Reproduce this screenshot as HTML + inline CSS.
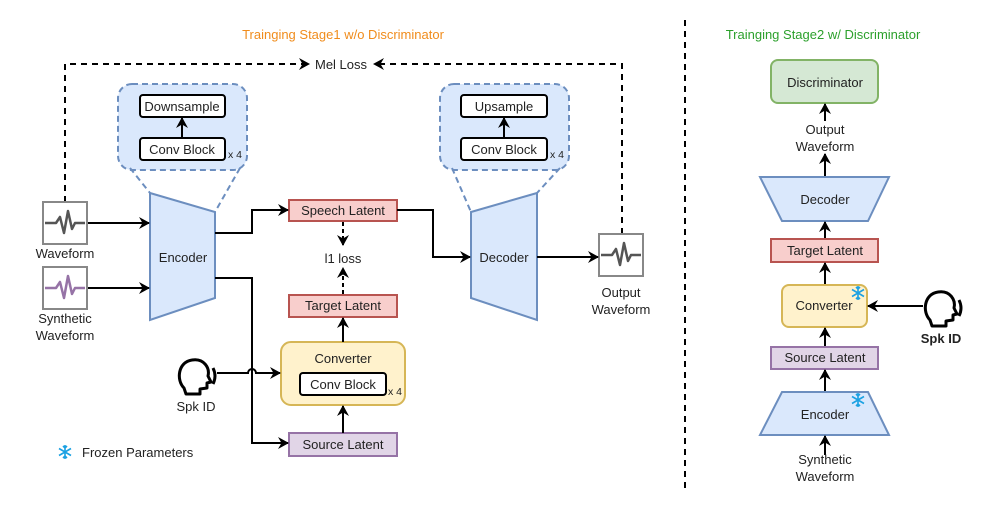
<!DOCTYPE html>
<html><head><meta charset="utf-8"><style>body{margin:0;background:#fff}svg{display:block}text{font-family:"Liberation Sans",sans-serif;fill:#222}</style></head><body>
<svg width="997" height="507" viewBox="0 0 997 507" xmlns="http://www.w3.org/2000/svg">
<defs>
<marker id="a" markerWidth="12" markerHeight="12" refX="10" refY="6" orient="auto" markerUnits="userSpaceOnUse"><path d="M0,0 L11,6 L0,12 L3.5,6 Z" fill="#000"/></marker>
<g id="wave"><rect x="0" y="0" width="44" height="42" fill="#fff" stroke="#888" stroke-width="2"/><path d="M2,21 H13 L17,15 L21,31 L25,9 L29,27 L32,21 H42" fill="none" stroke-width="2.5" stroke-linejoin="round"/></g>
<g id="head"><path d="M6,30 C-2,22 0,4 14,2 C26,0 32,10 30,18 L33,24 L29,25 L29,30 L22,31 L22,36 L8,36 Z" fill="#fff" stroke="#000" stroke-width="3" stroke-linejoin="round"/><path d="M35,10 Q39,18 35,26" fill="none" stroke="#000" stroke-width="3"/></g>
<g id="snow" stroke="#1ba1e2" stroke-width="1.6" fill="none"><path d="M0,-7 V7 M-6,-3.5 L6,3.5 M-6,3.5 L6,-3.5 M-2,-6 L0,-4 L2,-6 M-2,6 L0,4 L2,6"/></g>
</defs>
<text x="343" y="39" font-size="13" text-anchor="middle" style="fill:#f08c1c">Trainging Stage1 w/o Discriminator</text>
<text x="823" y="39" font-size="13" text-anchor="middle" style="fill:#2ca02c">Trainging Stage2 w/ Discriminator</text>
<line x1="685" y1="20" x2="685" y2="490" stroke="#000" stroke-width="2" stroke-dasharray="6,5"/>
<path d="M65,202 V64 H309" fill="none" stroke="#000" stroke-width="2" stroke-dasharray="6,5" marker-end="url(#a)"/>
<path d="M622,234 V64 H374" fill="none" stroke="#000" stroke-width="2" stroke-dasharray="6,5" marker-end="url(#a)"/>
<text x="341" y="69" font-size="13" text-anchor="middle">Mel Loss</text>
<rect x="118" y="84" width="129" height="86" rx="14" fill="#dae8fc" stroke="#6c8ebf" stroke-width="2" stroke-dasharray="6,4"/>
<line x1="130" y1="168" x2="150" y2="193" stroke="#6c8ebf" stroke-width="2" stroke-dasharray="6,4"/>
<line x1="240" y1="168" x2="215" y2="212" stroke="#6c8ebf" stroke-width="2" stroke-dasharray="6,4"/>
<rect x="140" y="95" width="85" height="22" rx="3" fill="#fff" stroke="#000" stroke-width="2"/><text x="182" y="111" font-size="13" text-anchor="middle">Downsample</text>
<rect x="140" y="138" width="85" height="22" rx="3" fill="#fff" stroke="#000" stroke-width="2"/><text x="182" y="154" font-size="13" text-anchor="middle">Conv Block</text>
<text x="228" y="158" font-size="10.5">x 4</text>
<line x1="182" y1="138" x2="182" y2="118" stroke="#000" stroke-width="2" marker-end="url(#a)"/>
<rect x="440" y="84" width="129" height="86" rx="14" fill="#dae8fc" stroke="#6c8ebf" stroke-width="2" stroke-dasharray="6,4"/>
<line x1="452" y1="168" x2="471" y2="212" stroke="#6c8ebf" stroke-width="2" stroke-dasharray="6,4"/>
<line x1="560" y1="168" x2="537" y2="193" stroke="#6c8ebf" stroke-width="2" stroke-dasharray="6,4"/>
<rect x="461" y="95" width="86" height="22" rx="3" fill="#fff" stroke="#000" stroke-width="2"/><text x="504" y="111" font-size="13" text-anchor="middle">Upsample</text>
<rect x="461" y="138" width="86" height="22" rx="3" fill="#fff" stroke="#000" stroke-width="2"/><text x="504" y="154" font-size="13" text-anchor="middle">Conv Block</text>
<text x="550" y="158" font-size="10.5">x 4</text>
<line x1="504" y1="138" x2="504" y2="118" stroke="#000" stroke-width="2" marker-end="url(#a)"/>
<polygon points="150,193 215,212 215,298 150,320" fill="#dae8fc" stroke="#6c8ebf" stroke-width="2"/>
<text x="183" y="262" font-size="13" text-anchor="middle">Encoder</text>
<polygon points="471,212 537,193 537,320 471,298" fill="#dae8fc" stroke="#6c8ebf" stroke-width="2"/>
<text x="504" y="262" font-size="13" text-anchor="middle">Decoder</text>
<use href="#wave" x="43" y="202" stroke="#555"/>
<text x="65" y="258" font-size="13" text-anchor="middle">Waveform</text>
<use href="#wave" x="43" y="267" stroke="#9673a6"/>
<text x="65" y="323" font-size="13" text-anchor="middle">Synthetic</text>
<text x="65" y="340" font-size="13" text-anchor="middle">Waveform</text>
<line x1="88" y1="223" x2="149" y2="223" stroke="#000" stroke-width="2" marker-end="url(#a)"/>
<line x1="88" y1="288" x2="149" y2="288" stroke="#000" stroke-width="2" marker-end="url(#a)"/>
<use href="#wave" x="599" y="234" stroke="#555"/>
<text x="621" y="297" font-size="13" text-anchor="middle">Output</text>
<text x="621" y="314" font-size="13" text-anchor="middle">Waveform</text>
<rect x="289" y="200" width="108" height="21" fill="#f8cecc" stroke="#b85450" stroke-width="2"/><text x="343" y="215" font-size="13" text-anchor="middle">Speech  Latent</text>
<rect x="289" y="295" width="108" height="22" fill="#f8cecc" stroke="#b85450" stroke-width="2"/><text x="343" y="310" font-size="13" text-anchor="middle">Target Latent</text>
<rect x="289" y="433" width="108" height="23" fill="#e1d5e7" stroke="#9673a6" stroke-width="2"/><text x="343" y="449" font-size="13" text-anchor="middle">Source  Latent</text>
<text x="343" y="263" font-size="13" text-anchor="middle">l1 loss</text>
<line x1="343" y1="222" x2="343" y2="245" stroke="#000" stroke-width="2" stroke-dasharray="4,3" marker-end="url(#a)"/>
<line x1="343" y1="294" x2="343" y2="268" stroke="#000" stroke-width="2" stroke-dasharray="4,3" marker-end="url(#a)"/>
<rect x="281" y="342" width="124" height="63" rx="10" fill="#fff2cc" stroke="#d6b656" stroke-width="2"/>
<text x="343" y="363" font-size="13" text-anchor="middle">Converter</text>
<rect x="300" y="373" width="86" height="22" rx="3" fill="#fff" stroke="#000" stroke-width="2"/><text x="343" y="389" font-size="13" text-anchor="middle">Conv Block</text>
<text x="388" y="395" font-size="10.5">x 4</text>
<line x1="343" y1="433" x2="343" y2="406" stroke="#000" stroke-width="2" marker-end="url(#a)"/>
<line x1="343" y1="342" x2="343" y2="318" stroke="#000" stroke-width="2" marker-end="url(#a)"/>
<path d="M215,233 H252 V210 H288" fill="none" stroke="#000" stroke-width="2" marker-end="url(#a)"/>
<path d="M215,278 H252 V443 H288" fill="none" stroke="#000" stroke-width="2" marker-end="url(#a)"/>
<path d="M217,373 H248 A4,4 0 0 1 256,373 H280" fill="none" stroke="#000" stroke-width="2" marker-end="url(#a)"/>
<path d="M397,210 H433 V257 H470" fill="none" stroke="#000" stroke-width="2" marker-end="url(#a)"/>
<line x1="537" y1="257" x2="598" y2="257" stroke="#000" stroke-width="2" marker-end="url(#a)"/>
<use href="#head" x="178" y="358"/>
<text x="196" y="411" font-size="13" text-anchor="middle">Spk ID</text>
<use href="#snow" x="65" y="452"/>
<text x="82" y="457" font-size="13">Frozen Parameters</text>
<rect x="771" y="60" width="107" height="43" rx="7" fill="#d5e8d4" stroke="#82b366" stroke-width="2"/><text x="825" y="87" font-size="13" text-anchor="middle">Discriminator</text>
<line x1="825" y1="121" x2="825" y2="104" stroke="#000" stroke-width="2" marker-end="url(#a)"/>
<text x="825" y="134" font-size="13" text-anchor="middle">Output</text>
<text x="825" y="151" font-size="13" text-anchor="middle">Waveform</text>
<line x1="825" y1="177" x2="825" y2="154" stroke="#000" stroke-width="2" marker-end="url(#a)"/>
<polygon points="760,177 889,177 868,221 782,221" fill="#dae8fc" stroke="#6c8ebf" stroke-width="2"/>
<text x="825" y="204" font-size="13" text-anchor="middle">Decoder</text>
<line x1="825" y1="239" x2="825" y2="222" stroke="#000" stroke-width="2" marker-end="url(#a)"/>
<rect x="771" y="239" width="107" height="23" fill="#f8cecc" stroke="#b85450" stroke-width="2"/><text x="825" y="255" font-size="13" text-anchor="middle">Target Latent</text>
<line x1="825" y1="285" x2="825" y2="263" stroke="#000" stroke-width="2" marker-end="url(#a)"/>
<rect x="782" y="285" width="85" height="42" rx="7" fill="#fff2cc" stroke="#d6b656" stroke-width="2"/><text x="824" y="310" font-size="13" text-anchor="middle">Converter</text>
<use href="#snow" x="858" y="293"/>
<line x1="923" y1="306" x2="868" y2="306" stroke="#000" stroke-width="2" marker-end="url(#a)"/>
<use href="#head" x="924" y="290"/>
<text x="941" y="343" font-size="13" text-anchor="middle" font-weight="bold">Spk ID</text>
<line x1="825" y1="347" x2="825" y2="328" stroke="#000" stroke-width="2" marker-end="url(#a)"/>
<rect x="771" y="347" width="107" height="22" fill="#e1d5e7" stroke="#9673a6" stroke-width="2"/><text x="825" y="362" font-size="13" text-anchor="middle">Source  Latent</text>
<line x1="825" y1="392" x2="825" y2="370" stroke="#000" stroke-width="2" marker-end="url(#a)"/>
<polygon points="782,392 868,392 889,435 760,435" fill="#dae8fc" stroke="#6c8ebf" stroke-width="2"/>
<text x="825" y="419" font-size="13" text-anchor="middle">Encoder</text>
<use href="#snow" x="858" y="400"/>
<line x1="825" y1="455" x2="825" y2="436" stroke="#000" stroke-width="2" marker-end="url(#a)"/>
<text x="825" y="464" font-size="13" text-anchor="middle">Synthetic</text>
<text x="825" y="481" font-size="13" text-anchor="middle">Waveform</text>
</svg>
</body></html>
